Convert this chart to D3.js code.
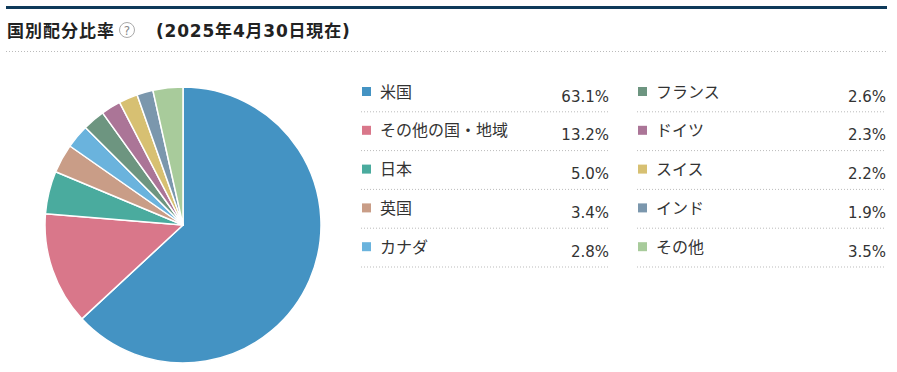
<!DOCTYPE html>
<html><head><meta charset="utf-8">
<script src="https://cdn.jsdelivr.net/npm/d3@7"></script>
<style>
html,body{margin:0;padding:0;background:#fff;}
svg{display:block;font-family:"Noto Sans CJK JP","Noto Sans",sans-serif;}
</style></head>
<body>
<svg id="c" width="897" height="372"></svg>
<script>
const categories = ["米国","その他の国・地域","日本","英国","カナダ","フランス","ドイツ","スイス","インド","その他"];
const values = [63.1,13.2,5.0,3.4,2.8,2.6,2.3,2.2,1.9,3.5];
const colors = ["#4493c3","#d9778a","#4aab9e","#c99d87","#6ab3dd","#6d9580","#ab7597","#d7c072","#7b97ad","#a8cb9b"];
const titleText = "国別配分比率";
const dateText = "(2025年4月30日現在)";

const svg = d3.select("#c");

// header
svg.append("rect").attr("x",6).attr("y",6).attr("width",881).attr("height",3).attr("fill","#0e3a5a");
svg.append("text").attr("x",7).attr("y",37).attr("font-size",17).attr("letter-spacing",1)
  .attr("font-weight","bold").attr("fill","#222").text(titleText);
const q = svg.append("g").attr("transform","translate(127,30)");
q.append("circle").attr("r",7.5).attr("fill","#fff").attr("stroke","#aaa").attr("stroke-width",1);
q.append("text").attr("y",4.5).attr("text-anchor","middle").attr("font-size",12).attr("fill","#888").attr("font-family","DejaVu Sans, sans-serif").text("?");
svg.append("text").attr("x",156).attr("y",37).attr("font-size",17).attr("letter-spacing",0.8)
  .attr("font-family","'DejaVu Sans','Noto Sans CJK JP',sans-serif")
  .attr("font-weight","bold").attr("fill","#222").text(dateText);
svg.append("line").attr("x1",6).attr("x2",887).attr("y1",51.5).attr("y2",51.5)
  .attr("stroke","#bbb").attr("stroke-width",1).attr("stroke-dasharray","1,2");

// pie
const data = categories.map((c,i)=>({name:c,value:values[i],color:colors[i]}));
const pie = d3.pie().value(d=>d.value).sort(null);
const arc = d3.arc().innerRadius(0).outerRadius(138);
const g = svg.append("g").attr("transform","translate(183,225)");
g.selectAll("path").data(pie(data)).join("path")
  .attr("d",arc).attr("fill",d=>d.data.color)
  .attr("stroke","#fff").attr("stroke-width",1.5).attr("stroke-linejoin","round");

// legend
const rowH = 38.8;
const cols = [{x0:361,x1:609},{x0:637,x1:886}];
data.forEach((d,i)=>{
  const col = cols[Math.floor(i/5)];
  const r = i%5;
  const top = 72.5 + r*rowH;
  const lg = svg.append("g");
  lg.append("rect").attr("x",col.x0+1).attr("y",top+14.5).attr("width",9).attr("height",9).attr("fill",d.color);
  lg.append("text").attr("x",col.x0+19).attr("y",top+25).attr("font-size",16).attr("fill","#333").text(d.name);
  lg.append("text").attr("x",col.x1).attr("y",top+29).attr("text-anchor","end").attr("fill","#333")
    .attr("font-family","'DejaVu Sans','Noto Sans',sans-serif").attr("font-size",15).text(d.value.toFixed(1)+"%");
  lg.append("line").attr("x1",col.x0).attr("x2",col.x1).attr("y1",top+rowH+0.5).attr("y2",top+rowH+0.5)
    .attr("stroke","#bbb").attr("stroke-width",1).attr("stroke-dasharray","1,2");
});
</script>
</body></html>
